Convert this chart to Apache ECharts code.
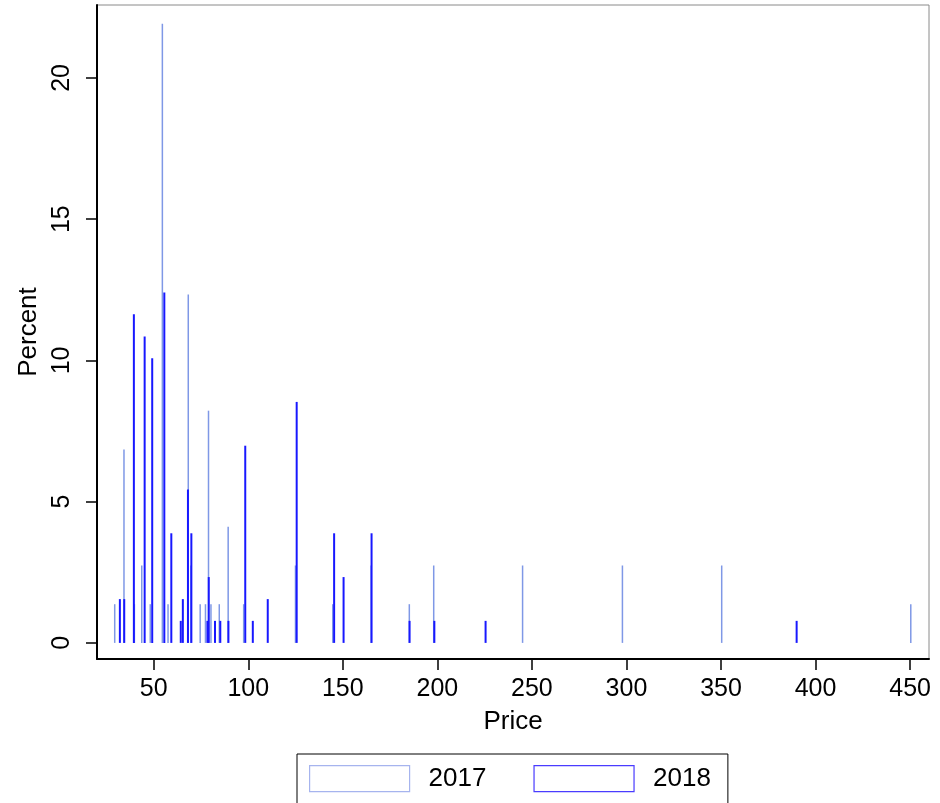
<!DOCTYPE html>
<html>
<head>
<meta charset="utf-8">
<script src="https://cdn.jsdelivr.net/npm/echarts@6/dist/echarts.min.js"></script>
<style>
  html, body { margin: 0; padding: 0; background: #fff; }
  #chart { width: 940px; height: 803px; }
</style>
</head>
<body>
<div id="chart"></div>
<script>
// 价格 / 百分比，按年份分开
const prices2017 = [29.5, 34.4, 39.9, 43.8, 48.3, 54.7, 57.7, 68.4, 69.8, 74.7, 77.5, 79.1, 80.4,
  84.8, 89.5, 97.7, 125.1, 144.8, 165.1, 185.3, 198.2, 245.2, 298.0, 350.5, 450.5]
const percent2017 = [1.37, 6.85, 1.37, 2.74, 1.37, 21.92, 1.37, 12.33, 2.74, 1.37, 1.37, 8.22, 1.37,
  1.37, 4.11, 1.37, 2.74, 1.37, 2.74, 1.37, 2.74, 2.74, 2.74, 2.74, 1.37]

const prices2018 = [32.1, 34.4, 39.5, 45.2, 49.2, 55.6, 59.3, 64.3, 65.4, 68.1, 69.9, 78.4, 79.1,
  82.4, 85.2, 89.5, 98.4, 102.4, 110.3, 125.6, 145.4, 150.4, 165.2, 185.3, 198.4, 225.5, 390.0]
const percent2018 = [1.55, 1.55, 11.63, 10.85, 10.08, 12.40, 3.88, 0.78, 1.55, 5.43, 3.88, 0.78, 2.33,
  0.78, 0.78, 0.78, 6.98, 0.78, 1.55, 8.53, 3.88, 2.33, 3.88, 0.78, 0.78, 0.78, 0.78]

const xTicks = [50, 100, 150, 200, 250, 300, 350, 400, 450]
const yTicks = [0, 5, 10, 15, 20]

const color2017 = '#7f98e6'
const color2018 = '#1818ff'
const font = 'Liberation Sans, Arial, Helvetica, sans-serif'

const toPairs = (xs, ys) => xs.map((x, i) => [x, ys[i]])

const chart = echarts.init(document.getElementById('chart'), null, { renderer: 'canvas' })

const option = {
  animation: false,
  textStyle: { fontFamily: font, color: '#000' },
  grid: {
    left: 97,
    right: 11,
    top: 5,
    bottom: 144,
    show: true,
    borderColor: '#8a8a8a',
    borderWidth: 1,
    containLabel: false,
    outerBoundsMode: 'none',
  },
  legend: {
    left: 297,
    top: 754,
    orient: 'horizontal',
    itemWidth: 100,
    itemHeight: 26,
    itemGap: 47,
    padding: [11, 17, 40, 12],
    borderColor: '#000',
    borderWidth: 1,
    textStyle: { fontSize: 26, color: '#000', fontFamily: font, padding: [0, 0, 0, 14] },
    data: [
      { name: '2017', icon: 'rect', itemStyle: { color: '#fff', borderColor: '#a6b4ee', borderWidth: 1.2 } },
      { name: '2018', icon: 'rect', itemStyle: { color: '#fff', borderColor: '#4a3cff', borderWidth: 1.2 } },
    ],
  },
  xAxis: {
    type: 'value',
    min: 20,
    max: 460,
    name: 'Price',
    nameLocation: 'middle',
    nameGap: 50,
    nameTextStyle: { fontSize: 26, color: '#000', fontFamily: font },
    splitLine: { show: false },
    axisLine: { show: true, onZero: false, lineStyle: { color: '#000', width: 2 } },
    axisTick: { show: true, length: 11, customValues: xTicks, lineStyle: { color: '#000', width: 1.5 } },
    axisLabel: { customValues: xTicks, fontSize: 25, color: '#000', margin: 18, fontFamily: font },
  },
  yAxis: {
    type: 'value',
    min: -0.57,
    max: 22.58,
    name: 'Percent',
    nameLocation: 'middle',
    nameGap: 53,
    nameTextStyle: { fontSize: 26, color: '#000', fontFamily: font },
    splitLine: { show: false },
    axisLine: { show: true, onZero: false, lineStyle: { color: '#000', width: 2 } },
    axisTick: { show: true, length: 11, customValues: yTicks, lineStyle: { color: '#000', width: 1.5 } },
    axisLabel: { customValues: yTicks, fontSize: 25, color: '#000', rotate: 90, margin: 22, fontFamily: font },
  },
  series: [
    {
      name: '2017',
      type: 'bar',
      barWidth: 1.5,
      barGap: '-100%',
      itemStyle: { color: color2017 },
      data: toPairs(prices2017, percent2017),
    },
    {
      name: '2018',
      type: 'bar',
      barWidth: 2,
      barGap: '-100%',
      itemStyle: { color: color2018 },
      data: toPairs(prices2018, percent2018),
    },
  ],
}

chart.setOption(option)
</script>
</body>
</html>
